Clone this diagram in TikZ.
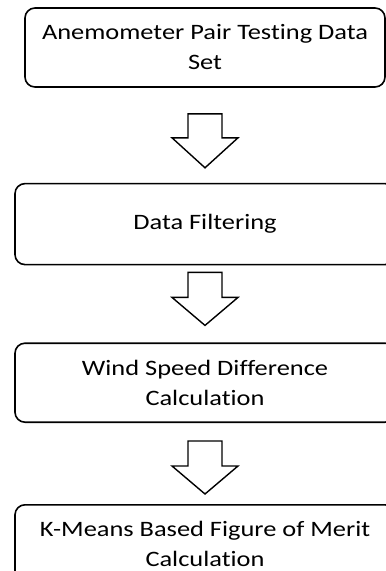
\documentclass[tikz,border=0pt]{standalone}
\usepackage{fontspec}
\setmainfont{Carlito}[FakeStretch=1.2,Ligatures=NoCommon]
\usetikzlibrary{positioning}

\begin{document}
\begin{tikzpicture}[line width=1.6pt,
                    step box/.style={rectangle,draw,rounded corners=10pt,align=center,
                      minimum width=380pt,minimum height=79pt,inner sep=0pt,
                      font=\fontsize{22}{30}\selectfont},
                    block arrow/.style={draw,line width=1.4pt,line join=miter}]
  \useasboundingbox (0,0) rectangle (386pt,-571pt);

  \node[step box,minimum width=360pt] (data) at (205pt,-47.5pt) {Anemometer Pair Testing Data\\Set};
  \node[step box,minimum height=81pt] (filter) [below=95pt of data] {Data Filtering};
  \node[step box] (diff) [below=77pt of filter] {Wind Speed Difference\\Calculation};
  \node[step box] (fom) [below=81pt of diff] {K-Means Based Figure of Merit\\Calculation};

  % hollow block arrows between the steps
  \draw[block arrow] ([xshift=-17pt,yshift=-26pt]data.south) -- ++(0,-24pt) -- ++(-16pt,0)
    -- ++(33pt,-30pt) -- ++(33pt,30pt) -- ++(-16pt,0) -- ++(0,24pt) -- cycle;
  \draw[block arrow] ([xshift=-17pt,yshift=-7pt]filter.south) -- ++(0,-25pt) -- ++(-16pt,0)
    -- ++(33pt,-28pt) -- ++(33pt,28pt) -- ++(-16pt,0) -- ++(0,25pt) -- cycle;
  \draw[block arrow] ([xshift=-17pt,yshift=-18pt]diff.south) -- ++(0,-25pt) -- ++(-16pt,0)
    -- ++(33pt,-28pt) -- ++(33pt,28pt) -- ++(-16pt,0) -- ++(0,25pt) -- cycle;

\end{tikzpicture}
\end{document}
